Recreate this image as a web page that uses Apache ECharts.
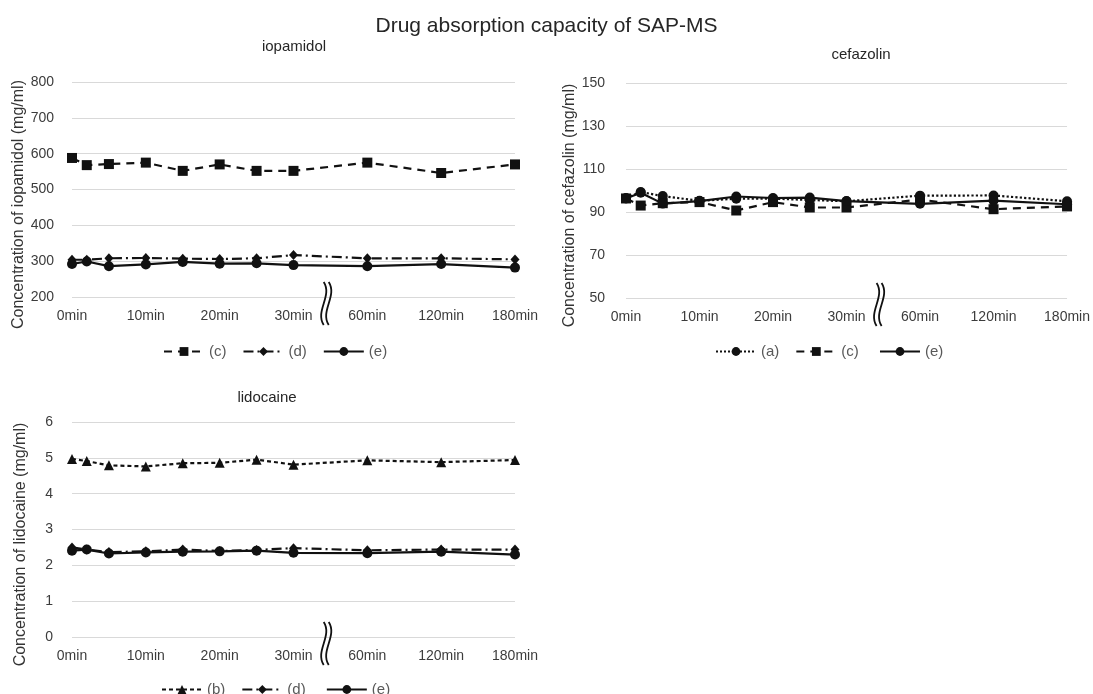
<!DOCTYPE html>
<html lang="en">

<head>
    <title>Drug absorption capacity of SAP-MS</title>
    <meta charset="UTF-8">
    <script src="https://cdn.jsdelivr.net/npm/echarts@6/dist/echarts.min.js"></script>
    <style>
        html, body { margin: 0; padding: 0; background: #fff; }
        #mycharts { width: 1093px; height: 694px; }
    </style>
</head>

<body>
    <div id="mycharts"></div>

    <script>
        // sampling times (min) and axis tick labels
        var sampleTimes = [0, 2, 5, 10, 15, 20, 25, 30, 60, 120, 180];
        var tickLabels = ['0min', '10min', '20min', '30min', '60min', '120min', '180min'];
        // after the break each step of 10 on the axis is one of these times
        var afterBreak = [60, 120, 180];

        // iopamidol (mg/ml)
        var iopamidolC = [588, 568, 571, 575, 552, 570, 552, 552, 575, 546, 570];
        var iopamidolD = [304, 304, 308, 309, 307, 306, 308, 317, 308, 308, 305];
        var iopamidolE = [292, 299, 286, 291, 298, 293, 294, 289, 286, 292, 282];

        // cefazolin (mg/ml)
        var cefazolinA = [96.5, 99.3, 97.4, 95.2, 96.2, 96.2, 95.6, 95.0, 97.6, 97.7, 95.0];
        var cefazolinC = [96.3, 93.0, 94.1, 94.6, 90.7, 94.6, 92.1, 92.1, 95.8, 91.3, 92.6];
        var cefazolinE = [96.3, 99.0, 93.9, 95.1, 97.2, 96.5, 96.7, 95.1, 93.8, 95.3, 93.6];

        // lidocaine (mg/ml)
        var lidocaineB = [4.97, 4.91, 4.79, 4.76, 4.85, 4.86, 4.95, 4.81, 4.93, 4.88, 4.94];
        var lidocaineD = [2.50, 2.44, 2.37, 2.39, 2.44, 2.40, 2.43, 2.48, 2.42, 2.44, 2.44];
        var lidocaineE = [2.41, 2.44, 2.33, 2.36, 2.38, 2.39, 2.41, 2.35, 2.34, 2.38, 2.30];

        var toAxis = function (t) {
            if (t <= 30) return t;
            return 30 + 10 * (afterBreak.indexOf(t) + 1);
        };
        var pairs = function (vals) {
            return sampleTimes.map(function (t, i) { return [toAxis(t), vals[i]]; });
        };

        var ink = '#111';
        var labelColor = '#3c3c3c';
        var gridColor = '#d9d9d9';
        var font = 'Liberation Sans, Arial, sans-serif';

        var dashC = [8, 6];
        var dashD = [10, 4, 2, 4];
        var dashB = [4, 3];

        var makeX = function (idx) {
            return {
                type: 'value', gridIndex: idx, min: 0, max: 60, interval: 10,
                axisLine: { show: false }, axisTick: { show: false }, splitLine: { show: false },
                axisLabel: {
                    margin: 12, color: labelColor, fontSize: 14, fontFamily: font,
                    formatter: function (v) { return tickLabels[Math.round(v / 10)]; }
                }
            };
        };
        var makeY = function (idx, min, max, step, name, gap, margin) {
            return {
                type: 'value', gridIndex: idx, min: min, max: max, interval: step,
                name: name, nameLocation: 'middle', nameGap: gap,
                // shift the rotated name a little downwards, like the original
                nameTextStyle: { color: '#333', fontSize: 16, fontFamily: font, padding: [0, 30, 0, 0] },
                axisLine: { show: false }, axisTick: { show: false },
                splitLine: { lineStyle: { color: gridColor, width: 1 } },
                axisLabel: { margin: margin, color: labelColor, fontSize: 14, fontFamily: font }
            };
        };
        var makeSeries = function (name, idx, vals, symbol, size, dash, z) {
            return {
                name: name, type: 'line', xAxisIndex: idx, yAxisIndex: idx,
                data: pairs(vals), symbol: symbol, symbolSize: size, z: z,
                itemStyle: { color: ink },
                lineStyle: { color: ink, width: 2.2, type: dash }
            };
        };
        var makeLegend = function (names, left, top) {
            return {
                data: names, left: left, top: top, itemWidth: 40, itemHeight: 11, itemGap: 16,
                textStyle: { color: '#595959', fontSize: 15, fontFamily: font }
            };
        };
        var panelTitle = function (text, x, y) {
            return {
                text: text, left: x, top: y, textAlign: 'center',
                textStyle: { fontSize: 15, fontWeight: 'normal', color: '#262626', fontFamily: font }
            };
        };

        var option = {
            animation: false,
            backgroundColor: '#fff',
            title: [
                { text: 'Drug absorption capacity of SAP-MS', left: 'center', top: 11,
                  textStyle: { fontSize: 21, fontWeight: 'normal', color: '#262626', fontFamily: font } },
                panelTitle('iopamidol', 289, 34),
                panelTitle('cefazolin', 856, 42),
                panelTitle('lidocaine', 262, 385)
            ],
            legend: [
                makeLegend(['(c)', '(d)', '(e)'], 158, 339),
                makeLegend(['(a)', '(c) ', '(e) '], 710, 339),
                makeLegend(['(b)', '(d) ', '(e)  '], 156, 677)
            ],
            grid: [
                { left: 72, top: 82, width: 443, height: 215 },
                { left: 626, top: 83, width: 443, height: 215 },
                { left: 72, top: 422, width: 443, height: 215 }
            ],
            xAxis: [makeX(0), makeX(1), makeX(2)],
            yAxis: [
                makeY(0, 200, 800, 100, 'Concentration of iopamidol (mg/ml)', 43, 18),
                makeY(1, 50, 150, 20, 'Concentration of cefazolin (mg/ml)', 42, 21),
                makeY(2, 0, 6, 1, 'Concentration of lidocaine (mg/ml)', 43, 19)
            ],
            series: [
                makeSeries('(c)', 0, iopamidolC, 'rect', 10, dashC, 3),
                makeSeries('(d)', 0, iopamidolD, 'diamond', [9, 10], dashD, 2),
                makeSeries('(e)', 0, iopamidolE, 'circle', 10, 'solid', 4),
                makeSeries('(a)', 1, cefazolinA, 'circle', 10, 'dotted', 2),
                makeSeries('(c) ', 1, cefazolinC, 'rect', 10, dashC, 3),
                makeSeries('(e) ', 1, cefazolinE, 'circle', 10, 'solid', 4),
                makeSeries('(b)', 2, lidocaineB, 'triangle', 10, dashB, 3),
                makeSeries('(d) ', 2, lidocaineD, 'diamond', [9, 10], dashD, 2),
                makeSeries('(e)  ', 2, lidocaineE, 'circle', 10, 'solid', 4)
            ]
        };

        var myChart = echarts.init(document.getElementById('mycharts'), null, { renderer: 'canvas' });
        myChart.setOption(option);

        // axis break marks between 30min and 60min
        var breakMarks = [];
        var bottoms = [200, 50, 0];
        for (var g = 0; g < 3; g++) {
            var p = myChart.convertToPixel({ gridIndex: g }, [34.5, bottoms[g]]);
            for (var k = 0; k < 2; k++) {
                var x0 = p[0] - 3 + k * 5;
                var y0 = p[1] - 15;
                var y1 = p[1] + 28;
                breakMarks.push({
                    type: 'bezierCurve',
                    shape: { x1: x0, y1: y0, cpx1: x0 + 9, cpy1: y0 + 14, cpx2: x0 - 9, cpy2: y1 - 14, x2: x0, y2: y1 },
                    style: { stroke: ink, lineWidth: 1.8, fill: null },
                    z: 10
                });
            }
        }
        myChart.setOption({ graphic: breakMarks });
    </script>
</body>

</html>
